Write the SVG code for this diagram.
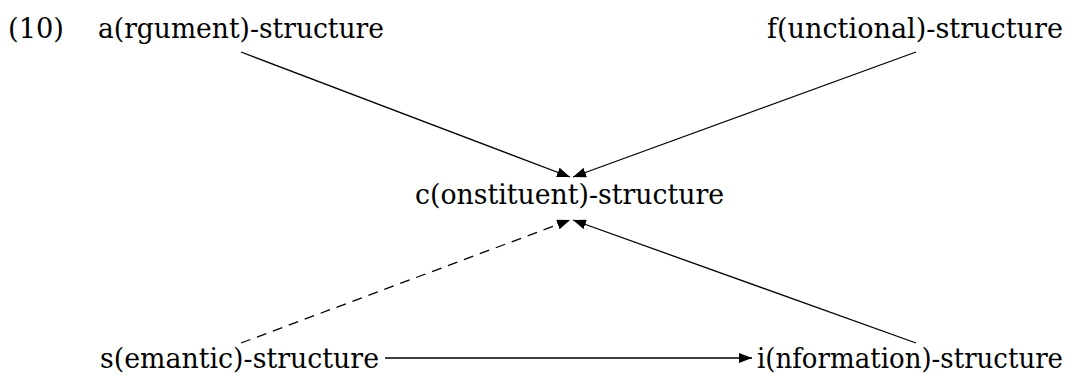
<svg xmlns="http://www.w3.org/2000/svg" width="1078" height="381" viewBox="0 0 1078 381">
<style>
text { font-family: "DejaVu Serif", "Liberation Serif", serif; font-size: 27px; fill: #000; }
.edge { stroke: #000; stroke-width: 1.3; fill: none; }
.dashed { stroke-dasharray: 10 7; }
</style>
<defs>
<marker id="arr" markerWidth="14" markerHeight="10" refX="13" refY="5" orient="auto" markerUnits="userSpaceOnUse">
<path d="M0,0 L13,5 L0,10 z" fill="#000"/>
</marker>
</defs>
<rect width="1078" height="381" fill="#fff"/>
<g id="label10"><text x="8" y="38" textLength="56" lengthAdjust="spacingAndGlyphs">(10)</text></g>
<g id="a-structure"><text x="98" y="38" textLength="286" lengthAdjust="spacingAndGlyphs">a(rgument)-structure</text></g>
<g id="f-structure"><text x="767" y="38" textLength="296" lengthAdjust="spacingAndGlyphs">f(unctional)-structure</text></g>
<g id="c-structure"><text x="415" y="204" textLength="309" lengthAdjust="spacingAndGlyphs">c(onstituent)-structure</text></g>
<g id="s-structure"><text x="100" y="368" textLength="279" lengthAdjust="spacingAndGlyphs">s(emantic)-structure</text></g>
<g id="i-structure"><text x="757" y="368" textLength="306" lengthAdjust="spacingAndGlyphs">i(nformation)-structure</text></g>
<g id="connectors">
<line class="edge" x1="241" y1="52" x2="570" y2="177" marker-end="url(#arr)"/>
<line class="edge" x1="916" y1="52" x2="573" y2="177" marker-end="url(#arr)"/>
<line class="edge dashed" x1="241" y1="343" x2="570" y2="220" marker-end="url(#arr)"/>
<line class="edge" x1="916" y1="343" x2="573" y2="220" marker-end="url(#arr)"/>
<line class="edge" x1="385" y1="358" x2="752" y2="358" marker-end="url(#arr)"/>
</g>
</svg>
